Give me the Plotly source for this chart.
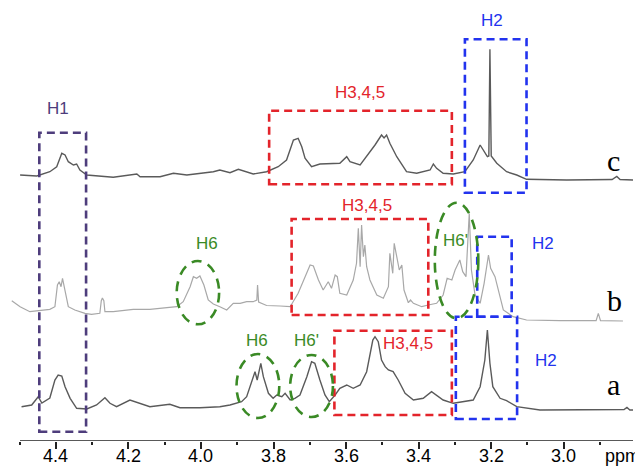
import plotly.graph_objects as go

# ---------------- data (ppm, relative intensity) ----------------
c_ppm = [4.499, 4.453, 4.417, 4.398, 4.384, 4.375, 4.366, 4.352, 4.343, 4.334, 4.315, 4.279, 4.242,
         4.177, 4.168, 4.113, 4.076, 4.039, 3.966, 3.948, 3.920, 3.897, 3.856, 3.819, 3.787, 3.764,
         3.745, 3.732, 3.722, 3.713, 3.695, 3.672, 3.644, 3.617, 3.598, 3.589, 3.561, 3.543, 3.520,
         3.502, 3.495, 3.488, 3.479, 3.460, 3.433, 3.405, 3.368, 3.359, 3.350, 3.332, 3.304, 3.272,
         3.249, 3.230, 3.221, 3.210, 3.206, 3.203, 3.1994, 3.192, 3.184, 3.157, 3.129, 3.102, 2.991,
         2.866, 2.853, 2.844, 2.807]
c_int = [1, 0, 4.3, 9.3, 22.7, 21, 14.3, 11, 12, 6, 1, 0, -1.3,
         2, -0.7, -0.7, 2.7, 1, 4.3, 6, 3.3, 6.7, 2, 4.3, 9.3, 16,
         36, 37.7, 29.3, 17.7, 9.3, 12, 12, 12.7, 19.3, 14.3, 11, 19.3, 31,
         41, 38, 41, 32.7, 19.3, 4.3, 2.7, 6, 12, 7.7, 2.7, 2, 4.3,
         16, 31, 26, 19.3, 20, 126.7, 20, 16, 12.7, 4.3, 1, -3.3, -4,
         -3.5, -0.5, -3.5, -4]

b_ppm = [4.522, 4.499, 4.472, 4.444, 4.417, 4.403, 4.396, 4.391, 4.386, 4.382, 4.375, 4.366, 4.348,
         4.320, 4.302, 4.279, 4.275, 4.272, 4.268, 4.265, 4.242, 4.187, 4.141, 4.095, 4.067, 4.049,
         4.030, 4.021, 4.012, 4.003, 3.992, 3.980, 3.966, 3.948, 3.929, 3.911, 3.892, 3.874, 3.856,
         3.846, 3.844, 3.841, 3.819, 3.782, 3.754, 3.732, 3.713, 3.699, 3.690, 3.676, 3.663, 3.649,
         3.640, 3.630, 3.624, 3.617, 3.598, 3.580, 3.571, 3.566, 3.561, 3.557, 3.552, 3.548, 3.543,
         3.534, 3.515, 3.497, 3.483, 3.479, 3.471, 3.467, 3.460, 3.453, 3.446, 3.440, 3.428, 3.422,
         3.414, 3.391, 3.373, 3.350, 3.332, 3.321, 3.308, 3.299, 3.286, 3.278, 3.269, 3.260, 3.254,
         3.244, 3.230, 3.219, 3.207, 3.201, 3.189, 3.180, 3.166, 3.139, 3.102, 3.010, 2.910, 2.904,
         2.898, 2.836]
b_int = [7.3, 1.3, -3.7, -2.7, -1.3, 1.3, 23, 26.3, 21.3, 29.7, 18, 1.3, -2,
         -5.3, -6.3, -5.3, 7.3, 10, 7.3, -3.7, -3.7, -1.3, -1.3, 0.7, 1.3, 6.3,
         21.3, 31.3, 29.7, 32, 23, 8, 4, 1.3, -2, 4.7, 4.7, 6.3, 6.3,
         8, 23, 6, 2.5, 2, 1.3, 14.7, 31.3, 43, 42, 28, 18, 26.3,
         19.7, 33, 31.3, 14.7, 13, 28, 44.7, 79.7, 41.3, 83, 51.3, 63, 41.3,
         28, 13, 9.7, 21.3, 54.7, 34.7, 64.7, 51.3, 38, 43, 18, 5.3, 8,
         4.7, 1.3, 3, 4.7, 13, 29.7, 28, 38, 48, 36.3, 31.3, 94.7, 38,
         13, 4.7, 24.7, 53, 39.7, 31.3, 18, -2, -8.7, -12, -12.7, -12.7, -5.3,
         -12.7, -13]

a_ppm = [4.495, 4.467, 4.449, 4.439, 4.417, 4.403, 4.394, 4.384, 4.375, 4.361, 4.343, 4.315, 4.288,
         4.265, 4.251, 4.233, 4.196, 4.168, 4.141, 4.086, 4.058, 4.003, 3.948, 3.920, 3.888, 3.874,
         3.851, 3.845, 3.835, 3.828, 3.814, 3.801, 3.791, 3.777, 3.768, 3.754, 3.741, 3.727, 3.708,
         3.695, 3.686, 3.672, 3.658, 3.646, 3.630, 3.617, 3.598, 3.580, 3.561, 3.543, 3.526, 3.520,
         3.511, 3.502, 3.492, 3.483, 3.470, 3.456, 3.437, 3.414, 3.387, 3.364, 3.350, 3.332, 3.304,
         3.276, 3.249, 3.230, 3.217, 3.210, 3.203, 3.195, 3.175, 3.157, 3.129, 3.065, 2.955, 2.833,
         2.825, 2.817, 2.803]
a_int = [-0.7, 1, 9.3, 3, 8, 26, 31, 30, 19.3, 7.7, -2.3, -3, 1,
         8.3, 2.7, -0.7, 6, 2.7, -0.7, 1.7, -1.7, -1.7, -0.7, 1, 4.3, 9.3,
         34.3, 26, 42.7, 29.3, 12.7, 7.7, 11, 9.3, 12.7, 6, 7.7, 11, 29.3,
         44.3, 42.7, 26, 11, 4.3, 11, 17.7, 21, 17.7, 21, 34.3, 66, 69.3,
         64.3, 46, 39.3, 36, 34.3, 26, 12.7, 6, 7.7, 14.3, 11, 6, 2.7,
         4.3, 6, 19.3, 46, 76, 42.7, 19.3, 7.7, 5.3, -0.7, -4, -4, -3.5,
         -1.5, -4, -4]

tick_vals = [4.4, 4.2, 4.0, 3.8, 3.6, 3.4, 3.2, 3.0]
tick_text = ["4.4", "4.2", "4.0", "3.8", "3.6", "3.4", "3.2", "3.0"]

# vertical stacking offsets of the three spectra
OFF_C, OFF_B, OFF_A = 265, 133, 35

fig = go.Figure()
fig.add_trace(go.Scatter(x=c_ppm, y=[v + OFF_C for v in c_int], mode="lines",
                         line=dict(color="#5a5a5a", width=1.4), hoverinfo="skip"))
fig.add_trace(go.Scatter(x=b_ppm, y=[v + OFF_B for v in b_int], mode="lines",
                         line=dict(color="#a8a8a8", width=1.2), hoverinfo="skip"))
fig.add_trace(go.Scatter(x=a_ppm, y=[v + OFF_A for v in a_int], mode="lines",
                         line=dict(color="#5a5a5a", width=1.4), hoverinfo="skip"))

PURPLE = "#4e3d7c"
RED = "#e3242b"
BLUE = "#2233ee"
GREEN = "#3a8a25"

shapes = []
def box(x0, x1, y0, y1, color):
    shapes.append(dict(type="rect", xref="x", yref="y", x0=x0, x1=x1, y0=y0, y1=y1,
                       line=dict(color=color, width=2.6, dash="8px,5px"), layer="above"))

def ell(x0, x1, y0, y1):
    shapes.append(dict(type="circle", xref="x", yref="y", x0=x0, x1=x1, y0=y0, y1=y1,
                       line=dict(color=GREEN, width=2.6, dash="10px,7px"), layer="above"))

box(4.446, 4.317, 9.3, 308.3, PURPLE)
box(3.812, 3.308, 256.7, 330.3, RED)
box(3.272, 3.102, 248.3, 401.7, BLUE)
box(3.750, 3.373, 126, 222, RED)
box(3.238, 3.143, 124.3, 204.3, BLUE)
box(3.632, 3.308, 26, 110.3, RED)
box(3.297, 3.128, 22, 124.3, BLUE)
ell(4.067, 3.950, 116.7, 180)
ell(3.902, 3.784, 23, 87)
ell(3.754, 3.636, 24, 86)
ell(3.355, 3.235, 122.7, 238.3)

# axis line
shapes.append(dict(type="line", xref="x", yref="y", x0=4.4993, x1=2.8083, y0=0, y1=0,
                   line=dict(color="#222222", width=1.5)))

SANS = "Liberation Sans, Arial, sans-serif"
SERIF = "Liberation Serif, Times New Roman, serif"
ann = []
def lab(x, y, t, color, size=17, fam=SANS, yref="y"):
    ann.append(dict(x=x, y=y, xref="x", yref=yref, text=t, showarrow=False,
                    font=dict(color=color, size=size, family=fam),
                    xanchor="center", yanchor="middle"))

lab(4.394, 333, "H1", PURPLE)
lab(3.561, 349, "H3,4,5", RED)
lab(3.197, 421, "H2", BLUE)
lab(3.983, 197.7, "H6", GREEN)
lab(3.543, 236, "H3,4,5", RED)
lab(3.297, 201, "H6'", GREEN)
lab(3.057, 198, "H2", BLUE)
lab(3.846, 101, "H6", GREEN)
lab(3.708, 101, "H6'", GREEN)
lab(3.428, 97.7, "H3,4,5", RED)
lab(3.048, 81, "H2", BLUE)
lab(2.863, 281, "c", "black", 30, SERIF)
lab(2.858, 141, "b", "black", 30, SERIF)
lab(2.863, 57, "a", "black", 30, SERIF)

# tick labels (text just below the tick marks, in paper units under the plot area)
for v, t in zip(tick_vals, tick_text):
    lab(v, -0.035, t, "black", 18, yref="paper")
lab(2.838, -0.035, "ppm", "black", 18, yref="paper")

# The page body adds an 8px margin, so the figure is 8px smaller than the window
# and everything is laid out in the shifted frame.
fig.update_layout(
    width=635, height=460,
    margin=dict(l=3, r=10, t=0, b=27, autoexpand=False),
    paper_bgcolor="white", plot_bgcolor="white",
    showlegend=False,
    shapes=shapes, annotations=ann,
    xaxis=dict(range=[4.5241, 2.8083], showgrid=False, zeroline=False, showline=False,
               tickmode="array", tickvals=tick_vals, showticklabels=False,
               ticks="outside", ticklen=7, tickwidth=1.5, tickcolor="#222222",
               minor=dict(tickmode="linear", tick0=3.1, dtick=0.2, ticks="outside",
                          ticklen=3, tickwidth=2, tickcolor="#222222"),
               automargin=False),
    yaxis=dict(range=[0, 433], visible=False, automargin=False),
)

fig.write_html("out.html")
